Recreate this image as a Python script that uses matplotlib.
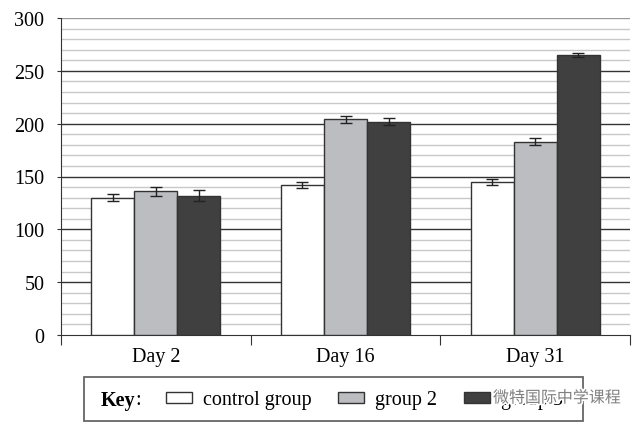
import matplotlib
matplotlib.use("Agg")
import matplotlib.pyplot as plt
import matplotlib.patheffects as pe
import numpy as np
from matplotlib.patches import Rectangle

days = ['Day 2', 'Day 16', 'Day 31']
groups = ['control group', 'group 2', 'group 3']
control = [130, 142, 145]
group2 = [136, 204, 183]
group3 = [132, 202, 265]
err_control = [3, 3, 3]
err_group2 = [4, 3, 3]
err_group3 = [5, 3, 1.5]

colors = ['#ffffff', '#bcbdc1', '#404040']

plt.rcParams['font.family'] = ['Liberation Serif', 'DejaVu Serif']
fig = plt.figure(figsize=(6.4, 4.27), dpi=100)
ax = fig.add_axes([61/640, 1-336/427, 569/640, 317/427])

x = np.arange(len(days))
w = 0.227
series = [control, group2, group3]
errs = [err_control, err_group2, err_group3]
bars = []
for i in range(3):
    b = ax.bar(x + (i-1)*w, series[i], w, color=colors[i], edgecolor='#333333',
               linewidth=1, zorder=3, label=groups[i])
    ax.errorbar(x + (i-1)*w, series[i], yerr=errs[i], fmt='none', ecolor='#222222',
                elinewidth=1, capsize=4, capthick=1, zorder=4)
    bars.append(b)

ax.set_xlim(-0.5, 2.5)
ax.set_ylim(0, 300)

# grid lines
for v in range(10, 301, 10):
    if v % 50 == 0:
        col = '#999999' if v == 300 else '#333333'
        ax.axhline(v, color=col, lw=1, zorder=1)
    else:
        ax.axhline(v, color='#c8c8c8', lw=1, zorder=1)

ax.spines['top'].set_visible(False)
ax.spines['right'].set_visible(False)
ax.spines['left'].set_color('#333333')
ax.spines['bottom'].set_color('#333333')

ax.set_yticks(range(0, 301, 50))
ax.tick_params(axis='y', length=3, pad=9, labelsize=14.5, color='#333333')
ax.set_xticks([-0.5, 0.5, 1.5, 2.5])
ax.set_xticklabels([])
ax.set_xticks(x, minor=True)
ax.set_xticklabels(days, minor=True)
ax.tick_params(axis='x', which='major', length=7, color='#333333')
ax.tick_params(axis='x', which='minor', length=0, pad=9, labelsize=14.5)

# key box
ky = 1 - 401/427
fig.patches.append(Rectangle((84/640, 5/427), 499/640, 44/427, transform=fig.transFigure,
                             facecolor='white', edgecolor='#666666', lw=1.3, zorder=0))
fig.text(101/640, ky, 'Key', fontsize=14.5, fontweight='bold', va='center', ha='left')
fig.text(135/640, ky, ':', fontsize=14.5, va='center', ha='left')
fig.legend(handles=bars, labels=groups, loc='center left', bbox_to_anchor=(166/640, ky),
           ncol=3, frameon=False, fontsize=14.5, handlelength=1.3, handleheight=0.5,
           handletextpad=0.55, columnspacing=1.3, borderpad=0, borderaxespad=0)

# watermark
fig.text(493/640, 1 - 399/427, '微特国际中学课程', fontsize=11.5, color='#808080',
         family=['Noto Sans CJK SC', 'DejaVu Sans'], va='center', ha='left', zorder=10,
         path_effects=[pe.withStroke(linewidth=2.5, foreground='white')])

fig.savefig('out.png', dpi=100)
